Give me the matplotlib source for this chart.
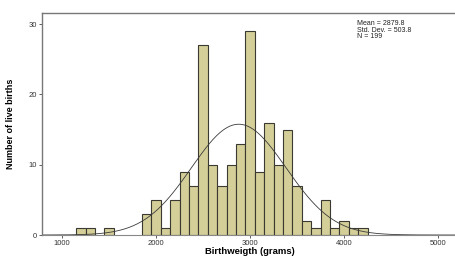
import numpy as np
import matplotlib
matplotlib.use("Agg")
import matplotlib.pyplot as plt

plt.rcParams['font.family'] = ['Liberation Sans', 'DejaVu Sans']

bin_left = [1150, 1250, 1450, 1850, 1950, 2050, 2150, 2250, 2350, 2450, 2550, 2650,
            2750, 2850, 2950, 3050, 3150, 3250, 3350, 3450, 3550, 3650, 3750, 3850,
            3950, 4050, 4150]
counts = [1, 1, 1, 3, 5, 1, 5, 9, 7, 27, 10, 7, 10, 13, 29, 9, 16, 10, 15, 7, 2, 1, 5, 1,
          2, 1, 1]
bin_width = 100
mean = 2879.8
sd = 503.8
n = 199
xticks = [1000, 2000, 3000, 4000, 5000]
yticks = [0, 10, 20, 30]

fig = plt.figure(figsize=(4.56, 2.57), dpi=100)
ax = fig.add_axes([42/456, 22/257, (456-42)/456, 222/257])

ax.bar(bin_left, counts, width=bin_width, align='edge', color='#d4ce98',
       edgecolor='#3a3a32', linewidth=0.8, zorder=2)

xs = np.linspace(800, 5200, 600)
ys = n * bin_width * np.exp(-0.5 * ((xs - mean) / sd) ** 2) / (sd * np.sqrt(2 * np.pi))
ax.plot(xs, ys, color='#3a3a3a', linewidth=0.6, zorder=3)

ax.set_xlim(787, 5191)
ax.set_ylim(0, 31.58)
ax.set_xticks(xticks)
ax.set_yticks(yticks)
ax.tick_params(axis='both', labelsize=5.5, length=2.5, width=0.6, color='#444444',
               pad=1.0, labelcolor='#333333')
for s in ['left', 'top']:
    ax.spines[s].set_color('#777777')
    ax.spines[s].set_linewidth(1.0)
ax.spines['bottom'].set_color('#888888')
ax.spines['bottom'].set_linewidth(0.8)
ax.spines['right'].set_visible(False)

fig.text(250/456, 0.5/257, 'Birthweigth (grams)', fontsize=6.8, fontweight='bold',
         ha='center', va='bottom')
ax.set_ylabel('Number of live births', fontsize=6.5, fontweight='bold', labelpad=10)

ax.text(357/456, 1 - 20/257, f'Mean = {mean}\nStd. Dev. = {sd}\nN = {n}',
        transform=fig.transFigure, fontsize=5, va='top', ha='left',
        linespacing=0.95, color='#222222')

fig.savefig('out.png', dpi=100)
